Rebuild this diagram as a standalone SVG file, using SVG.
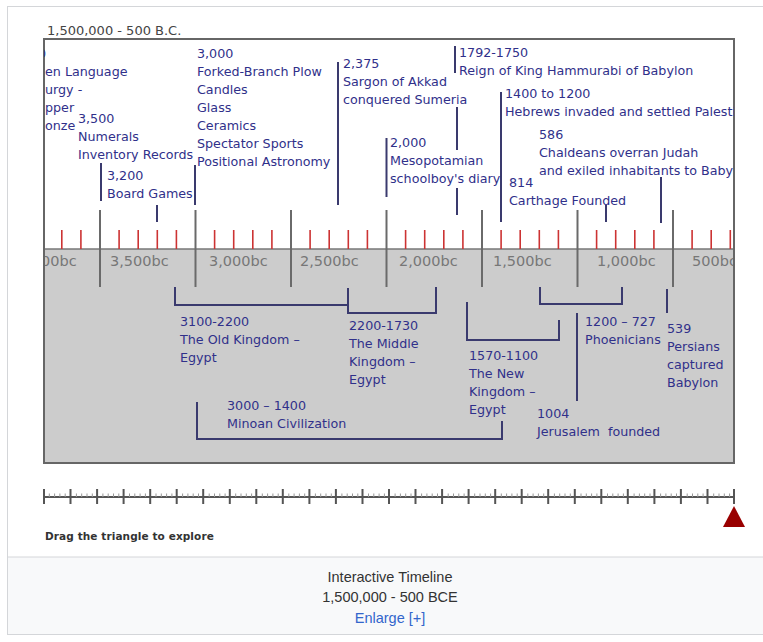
<svg xmlns="http://www.w3.org/2000/svg" width="763" height="642" viewBox="0 0 763 642">
<style>
.ev{font-family:"DejaVu Sans",Verdana,sans-serif;font-size:12.7px;fill:#30308a}
.ax{font-family:"DejaVu Sans",Verdana,sans-serif;font-size:14.5px;fill:#777777}
.con{fill:none;stroke:#3a3a6e;stroke-width:2}
.maj{stroke:#6a6a6a;stroke-width:2}
.red{stroke:#cc3333;stroke-width:1.6}
.cap{font-family:"Liberation Sans",Arial,sans-serif;font-size:14.5px;fill:#333333;text-anchor:middle}
</style>
<defs>
<clipPath id="boxclip"><rect x="44" y="39" width="690" height="424"/></clipPath>
</defs>
<rect x="0" y="0" width="763" height="642" fill="#ffffff"/>
<rect x="7.5" y="6.5" width="790" height="628" fill="#ffffff" stroke="#d4d6d9"/>
<rect x="8" y="557" width="790" height="77" fill="#f8f9fa"/>
<line x1="8" y1="557" x2="763" y2="557" stroke="#d4d6d9"/>

<text x="47" y="35" style="font-family:'DejaVu Sans',Verdana,sans-serif;font-size:13px;fill:#444">1,500,000 - 500 B.C.</text>

<g id="chart">
<rect x="44" y="249" width="690" height="214" fill="#cccccc"/>
<line x1="44" y1="249" x2="734" y2="249" stroke="#777" stroke-width="1.5"/>
<g id="major-ticks">
<line class="maj" x1="100" y1="210" x2="100" y2="287"/>
<line class="maj" x1="195.5" y1="210" x2="195.5" y2="287"/>
<line class="maj" x1="291" y1="210" x2="291" y2="287"/>
<line class="maj" x1="386.5" y1="210" x2="386.5" y2="287"/>
<line class="maj" x1="482" y1="210" x2="482" y2="287"/>
<line class="maj" x1="577.5" y1="210" x2="577.5" y2="287"/>
<line class="maj" x1="673" y1="210" x2="673" y2="287"/>
</g>
<g id="minor-ticks">
<line class="red" x1="61.8" y1="230" x2="61.8" y2="249"/>
<line class="red" x1="80.9" y1="230" x2="80.9" y2="249"/>
<line class="red" x1="119.1" y1="230" x2="119.1" y2="249"/>
<line class="red" x1="138.2" y1="230" x2="138.2" y2="249"/>
<line class="red" x1="157.3" y1="230" x2="157.3" y2="249"/>
<line class="red" x1="176.4" y1="230" x2="176.4" y2="249"/>
<line class="red" x1="214.6" y1="230" x2="214.6" y2="249"/>
<line class="red" x1="233.7" y1="230" x2="233.7" y2="249"/>
<line class="red" x1="252.8" y1="230" x2="252.8" y2="249"/>
<line class="red" x1="271.9" y1="230" x2="271.9" y2="249"/>
<line class="red" x1="310.1" y1="230" x2="310.1" y2="249"/>
<line class="red" x1="329.2" y1="230" x2="329.2" y2="249"/>
<line class="red" x1="348.3" y1="230" x2="348.3" y2="249"/>
<line class="red" x1="367.4" y1="230" x2="367.4" y2="249"/>
<line class="red" x1="405.6" y1="230" x2="405.6" y2="249"/>
<line class="red" x1="424.7" y1="230" x2="424.7" y2="249"/>
<line class="red" x1="443.8" y1="230" x2="443.8" y2="249"/>
<line class="red" x1="462.9" y1="230" x2="462.9" y2="249"/>
<line class="red" x1="501.1" y1="230" x2="501.1" y2="249"/>
<line class="red" x1="520.2" y1="230" x2="520.2" y2="249"/>
<line class="red" x1="539.3" y1="230" x2="539.3" y2="249"/>
<line class="red" x1="558.4" y1="230" x2="558.4" y2="249"/>
<line class="red" x1="596.6" y1="230" x2="596.6" y2="249"/>
<line class="red" x1="615.7" y1="230" x2="615.7" y2="249"/>
<line class="red" x1="634.8" y1="230" x2="634.8" y2="249"/>
<line class="red" x1="653.9" y1="230" x2="653.9" y2="249"/>
<line class="red" x1="692.1" y1="230" x2="692.1" y2="249"/>
<line class="red" x1="711.2" y1="230" x2="711.2" y2="249"/>
<line class="red" x1="730.3" y1="230" x2="730.3" y2="249"/>
</g>
<g id="axis-labels" clip-path="url(#boxclip)">
<text class="ax" x="41" y="266">00bc</text>
<text class="ax" x="110" y="266">3,500bc</text>
<text class="ax" x="209" y="266">3,000bc</text>
<text class="ax" x="300" y="266">2,500bc</text>
<text class="ax" x="399" y="266">2,000bc</text>
<text class="ax" x="493" y="266">1,500bc</text>
<text class="ax" x="597" y="266">1,000bc</text>
<text class="ax" x="692" y="266">500bc</text>
</g>
</g>

<g id="connectors">
<line class="con" x1="101" y1="163" x2="101" y2="201"/>
<line class="con" x1="157" y1="205" x2="157" y2="222"/>
<line class="con" x1="195" y1="165" x2="195" y2="205"/>
<line class="con" x1="338" y1="62" x2="338" y2="205"/>
<line class="con" x1="386.5" y1="138" x2="386.5" y2="197"/>
<line class="con" x1="455" y1="46" x2="455" y2="73"/>
<line class="con" x1="457" y1="107" x2="457" y2="150"/>
<line class="con" x1="457" y1="188" x2="457" y2="215"/>
<line class="con" x1="501" y1="92" x2="501" y2="222"/>
<line class="con" x1="606" y1="205" x2="606" y2="222"/>
<line class="con" x1="661" y1="177" x2="661" y2="223"/>
<path class="con" d="M175 287 V305 H348"/>
<path class="con" d="M348 288 V313 H436 V287"/>
<path class="con" d="M467 302 V340 H559 V320"/>
<path class="con" d="M540 287 V304 H622 V287"/>
<path class="con" d="M577 313 V401"/>
<path class="con" d="M667 289 V313"/>
<path class="con" d="M197 402 V439 H502 V421"/>
</g>

<rect x="44" y="39" width="690" height="424" fill="none" stroke="#666" stroke-width="2"/>

<g clip-path="url(#boxclip)">
<g id="ev-language">
<text class="ev" x="38" y="58">0</text>
<text class="ev" x="45" y="76">en Language</text>
<text class="ev" x="45" y="94">urgy -</text>
<text class="ev" x="45" y="112">pper</text>
<text class="ev" x="45" y="130">onze</text>
</g>
<g id="ev-3500">
<text class="ev" x="78" y="123">3,500</text>
<text class="ev" x="78" y="141">Numerals</text>
<text class="ev" x="78" y="159">Inventory Records</text>
</g>
<g id="ev-3200">
<text class="ev" x="107" y="180">3,200</text>
<text class="ev" x="107" y="198">Board Games</text>
</g>
<g id="ev-3000">
<text class="ev" x="197" y="58">3,000</text>
<text class="ev" x="197" y="76">Forked-Branch Plow</text>
<text class="ev" x="197" y="94">Candles</text>
<text class="ev" x="197" y="112">Glass</text>
<text class="ev" x="197" y="130">Ceramics</text>
<text class="ev" x="197" y="148">Spectator Sports</text>
<text class="ev" x="197" y="166">Positional Astronomy</text>
</g>
<g id="ev-2375">
<text class="ev" x="343" y="68">2,375</text>
<text class="ev" x="343" y="86">Sargon of Akkad</text>
<text class="ev" x="343" y="104">conquered Sumeria</text>
</g>
<g id="ev-2000">
<text class="ev" x="390" y="147">2,000</text>
<text class="ev" x="390" y="165">Mesopotamian</text>
<text class="ev" x="390" y="183">schoolboy's diary</text>
</g>
<g id="ev-1792">
<text class="ev" x="459" y="57">1792-1750</text>
<text class="ev" x="459" y="75">Reign of King Hammurabi of Babylon</text>
</g>
<g id="ev-1400">
<text class="ev" x="505" y="98">1400 to 1200</text>
<text class="ev" x="505" y="116">Hebrews invaded and settled Palesti</text>
</g>
<g id="ev-586">
<text class="ev" x="539" y="139">586</text>
<text class="ev" x="539" y="157">Chaldeans overran Judah</text>
<text class="ev" x="539" y="175">and exiled inhabitants to Baby</text>
</g>
<g id="ev-814">
<text class="ev" x="509" y="187">814</text>
<text class="ev" x="509" y="205">Carthage Founded</text>
</g>
<g id="ev-old-kingdom">
<text class="ev" x="180" y="326">3100-2200</text>
<text class="ev" x="180" y="344">The Old Kingdom –</text>
<text class="ev" x="180" y="362">Egypt</text>
</g>
<g id="ev-middle-kingdom">
<text class="ev" x="349" y="330">2200-1730</text>
<text class="ev" x="349" y="348">The Middle</text>
<text class="ev" x="349" y="366">Kingdom –</text>
<text class="ev" x="349" y="384">Egypt</text>
</g>
<g id="ev-minoan">
<text class="ev" x="227" y="410">3000 – 1400</text>
<text class="ev" x="227" y="428">Minoan Civilization</text>
</g>
<g id="ev-new-kingdom">
<text class="ev" x="469" y="360">1570-1100</text>
<text class="ev" x="469" y="378">The New</text>
<text class="ev" x="469" y="396">Kingdom –</text>
<text class="ev" x="469" y="414">Egypt</text>
</g>
<g id="ev-phoenicians">
<text class="ev" x="585" y="326">1200 – 727</text>
<text class="ev" x="585" y="344">Phoenicians</text>
</g>
<g id="ev-jerusalem">
<text class="ev" x="537" y="418">1004</text>
<text class="ev" x="537" y="436" style="white-space:pre">Jerusalem  founded</text>
</g>
<g id="ev-539">
<text class="ev" x="667" y="333">539</text>
<text class="ev" x="667" y="351">Persians</text>
<text class="ev" x="667" y="369">captured</text>
<text class="ev" x="667" y="387">Babylon</text>
</g>
</g>

<g id="slider">
<line x1="44" y1="497" x2="734" y2="497" stroke="#555" stroke-width="2"/>
<path d="M49.3 493.5V497M54.6 493.5V497M59.9 493.5V497M65.2 493.5V497M76.4 493.5V497M81.7 493.5V497M87 493.5V497M92.3 493.5V497M102.9 493.5V497M108.2 493.5V497M113.5 493.5V497M118.8 493.5V497M129.5 493.5V497M134.8 493.5V497M140.1 493.5V497M145.4 493.5V497M156 493.5V497M161.3 493.5V497M166.6 493.5V497M171.9 493.5V497M182.6 493.5V497M187.9 493.5V497M193.2 493.5V497M198.5 493.5V497M209.2 493.5V497M214.5 493.5V497M219.8 493.5V497M225.1 493.5V497M235.7 493.5V497M241 493.5V497M246.3 493.5V497M251.6 493.5V497M262.3 493.5V497M267.6 493.5V497M272.9 493.5V497M278.2 493.5V497M288.8 493.5V497M294.1 493.5V497M299.4 493.5V497M304.7 493.5V497M315.4 493.5V497M320.7 493.5V497M326 493.5V497M331.3 493.5V497M341.9 493.5V497M347.2 493.5V497M352.5 493.5V497M357.8 493.5V497M368.5 493.5V497M373.8 493.5V497M379.1 493.5V497M384.4 493.5V497M395.1 493.5V497M400.4 493.5V497M405.7 493.5V497M411 493.5V497M421.6 493.5V497M426.9 493.5V497M432.2 493.5V497M437.5 493.5V497M448.2 493.5V497M453.5 493.5V497M458.8 493.5V497M464.1 493.5V497M474.7 493.5V497M480 493.5V497M485.3 493.5V497M490.6 493.5V497M501.3 493.5V497M506.6 493.5V497M511.9 493.5V497M517.2 493.5V497M527.8 493.5V497M533.1 493.5V497M538.4 493.5V497M543.7 493.5V497M554.4 493.5V497M559.7 493.5V497M565 493.5V497M570.3 493.5V497M581 493.5V497M586.3 493.5V497M591.6 493.5V497M596.9 493.5V497M607.5 493.5V497M612.8 493.5V497M618.1 493.5V497M623.4 493.5V497M634.1 493.5V497M639.4 493.5V497M644.7 493.5V497M650 493.5V497M660.6 493.5V497M665.9 493.5V497M671.2 493.5V497M676.5 493.5V497M687.2 493.5V497M692.5 493.5V497M697.8 493.5V497M703.1 493.5V497M713.7 493.5V497M719 493.5V497M724.3 493.5V497M729.6 493.5V497" stroke="#999" stroke-width="1"/>
<path d="M44 489V504M70.5 489V504M97.1 489V504M123.6 489V504M150.2 489V504M176.7 489V504M203.2 489V504M229.8 489V504M256.3 489V504M282.8 489V504M309.4 489V504M335.9 489V504M362.5 489V504M389 489V504M415.5 489V504M442.1 489V504M468.6 489V504M495.2 489V504M521.7 489V504M548.2 489V504M574.8 489V504M601.3 489V504M627.8 489V504M654.4 489V504M680.9 489V504M707.5 489V504M734 489V504" stroke="#555" stroke-width="2"/>
<polygon points="734,506 723,527 745,527" fill="#990000"/>
<text x="45" y="540" style="font-family:'DejaVu Sans',Verdana,sans-serif;font-weight:bold;font-size:10.5px;letter-spacing:0.1px;fill:#333">Drag the triangle to explore</text>
</g>

<g id="caption">
<text class="cap" x="390" y="582">Interactive Timeline</text>
<text class="cap" x="390" y="602">1,500,000 - 500 BCE</text>
<text class="cap" x="390" y="623" style="fill:#3366cc">Enlarge [+]</text>
</g>
</svg>
